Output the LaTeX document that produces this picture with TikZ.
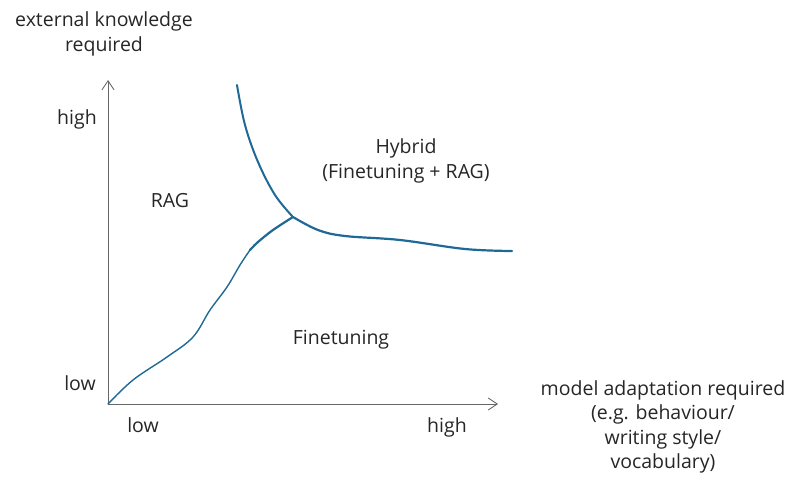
\documentclass[tikz,border=0pt]{standalone}
\usepackage{fontspec}
\setmainfont{Open Sans}
\usetikzlibrary{arrows.meta}
\begin{document}
\begin{tikzpicture}[x=1pt,y=-1pt,
  lbl/.style={font=\fontsize{19.5}{24.5}\selectfont, text=black!85, inner sep=0pt, align=center},
  axis/.style={draw=black!60, line width=0.9pt, -{Straight Barb[length=9pt,width=12pt]}},
  boundary/.style={draw=curveblue, line cap=round, line join=round}]
\definecolor{curveblue}{RGB}{30,105,150}
\useasboundingbox (0,0) rectangle (803,495);
\coordinate (O) at (108,404);
\coordinate (ytip) at (108,80);
\coordinate (xtip) at (498,404);
\coordinate (J) at (293,217);
\draw[axis] (O) -- (ytip);
\draw[axis] (O) -- (xtip);
\node[lbl] (ylab) at (104,34) {external knowledge\\required};
\node[lbl] (yhigh) at (77,119) {high};
\node[lbl] (ylow) at (80,383) {low};
\node[lbl] (xlow) at (143,425) {low};
\node[lbl] (xhigh) at (447,427) {high};
\node[lbl] (xlab) at (663,427) {model adaptation required\\(e.g. behaviour/\\writing style/\\vocabulary)};
\node[lbl] (rag) at (170,201) {RAG};
\node[lbl] (hybrid) at (406,161) {Hybrid\\(Finetuning + RAG)};
\node[lbl] (ft) at (341,340) {Finetuning};
\draw[boundary, line width=2pt] plot[smooth, tension=0.6] coordinates {(237,85) (245,125) (258,162) (275,195) (J)};
\draw[boundary, line width=2.2pt] plot[smooth, tension=0.6] coordinates {(J) (318,230) (345,236) (400,240) (465,249) (512,251)};
\draw[boundary, line width=2.2pt] plot[smooth, tension=0.6] coordinates {(J) (273,230) (258,242) (250,250)};
\draw[boundary, line width=1.4pt] plot[smooth, tension=0.6] coordinates {(250,250) (240,265) (227,287) (210,310) (193,337) (167,357) (133,380) (O)};
\end{tikzpicture}
\end{document}
